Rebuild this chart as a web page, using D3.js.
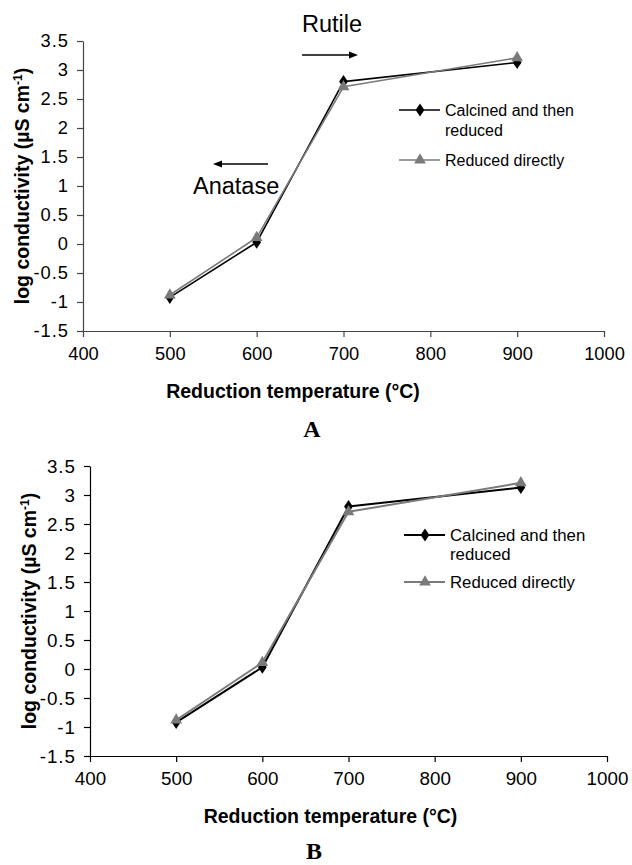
<!DOCTYPE html>
<html>
<head>
<meta charset="utf-8">
<script src="https://cdn.jsdelivr.net/npm/d3@7"></script>
<style>
  html, body { margin: 0; padding: 0; background: #fff; }
  svg { display: block; }
</style>
</head>
<body>
<svg id="chart" width="632" height="865"></svg>
<script>
// ---- data ----
const temps = [500, 600, 700, 900];
const calcinedReduced = [-0.92, 0.03, 2.80, 3.13];
const reducedDirectly = [-0.88, 0.11, 2.71, 3.21];
const seriesNames = ["Calcined and then reduced", "Reduced directly"];
const xTicks = [400, 500, 600, 700, 800, 900, 1000];
const yTicks = [-1.5, -1, -0.5, 0, 0.5, 1, 1.5, 2, 2.5, 3, 3.5];
const yTickLabels = ["-1.5", "-1", "-0.5", "0", "0.5", "1", "1.5", "2", "2.5", "3", "3.5"];
const xTitle = "Reduction temperature (°C)";
const panelLabels = ["A", "B"];
const phaseLabels = ["Rutile", "Anatase"];

const svg = d3.select("#chart");

const panels = [
  { left: 83, right: 604, top: 41, bottom: 331, axisColor: "#444", lineW: 1.6, tickFont: 18.3, legFont: 16,
    legX: 399, legY: 110, legY2: 160, legGap: 20, xTitleX: 293, yTitleX: 29, labelX: 312, labelDy: 106, annot: true },
  { left: 90, right: 607, top: 466, bottom: 756, axisColor: "#000", lineW: 2, tickFont: 18.8, legFont: 16.8,
    legX: 404, legY: 535, legY2: 582, legGap: 19, xTitleX: 330.5, yTitleX: 36, labelX: 314, labelDy: 103, annot: false }
];

panels.forEach((p, pi) => {
  const g = svg.append("g");
  const x = d3.scaleLinear().domain([400, 1000]).range([p.left, p.right]);
  const y = d3.scaleLinear().domain([-1.5, 3.5]).range([p.bottom, p.top]);

  // axes
  const xAxis = d3.axisBottom(x).tickValues(xTicks).tickSize(6).tickSizeOuter(0).tickPadding(10).tickFormat(d3.format("d"));
  const gx = g.append("g").attr("transform", `translate(0,${p.bottom})`).call(xAxis);
  gx.select(".domain").attr("stroke", p.axisColor).attr("stroke-width", 1.2);
  gx.selectAll(".tick line").attr("stroke", p.axisColor).attr("stroke-width", 1.2);
  gx.selectAll(".tick text").attr("font-family", "Liberation Sans, Arial, sans-serif")
    .attr("font-size", p.tickFont).attr("fill", "#000").attr("dy", "0.71em");

  const yAxis = d3.axisLeft(y).tickValues(yTicks).tickSize(6).tickSizeOuter(0).tickPadding(8)
    .tickFormat((d, i) => yTickLabels[i]);
  const gy = g.append("g").attr("transform", `translate(${p.left},0)`).call(yAxis);
  gy.select(".domain").attr("stroke", p.axisColor).attr("stroke-width", 1.2);
  gy.selectAll(".tick line").attr("stroke", p.axisColor).attr("stroke-width", 1.2);
  gy.selectAll(".tick text").attr("font-family", "Liberation Sans, Arial, sans-serif")
    .attr("font-size", p.tickFont).attr("fill", "#000").attr("letter-spacing", "1px");

  // axis titles
  g.append("text").attr("x", p.xTitleX).attr("y", p.bottom + 67)
    .attr("text-anchor", "middle").attr("font-family", "Liberation Sans, Arial, sans-serif")
    .attr("font-weight", "bold").attr("font-size", 19.5).text(xTitle);

  const yt = g.append("text")
    .attr("transform", `translate(${p.yTitleX},${(p.top + p.bottom) / 2}) rotate(-90)`)
    .attr("text-anchor", "middle").attr("font-family", "Liberation Sans, Arial, sans-serif")
    .attr("font-weight", "bold").attr("font-size", 19.5);
  yt.append("tspan").text("log conductivity (µS cm");
  yt.append("tspan").attr("baseline-shift", "super").attr("font-size", 12).text("-1");
  yt.append("tspan").text(")");

  // panel label
  g.append("text").attr("x", p.labelX).attr("y", p.bottom + p.labelDy)
    .attr("text-anchor", "middle").attr("font-family", "Liberation Serif, Times New Roman, serif")
    .attr("font-weight", "bold").attr("font-size", 24).text(panelLabels[pi]);

  // series
  const series = [
    { vals: calcinedReduced, color: "#000", shape: d3.symbolDiamond, size: 55 },
    { vals: reducedDirectly, color: "#7a7a7a", shape: d3.symbolTriangle, size: 60 }
  ];
  const line = d3.line().x(d => x(d[0])).y(d => y(d[1]));
  series.forEach(s => {
    const pts = temps.map((t, i) => [t, s.vals[i]]);
    g.append("path").datum(pts).attr("d", line).attr("fill", "none")
      .attr("stroke", s.color).attr("stroke-width", p.lineW).attr("stroke-linejoin", "round");
    g.selectAll(null).data(pts).enter().append("path")
      .attr("d", d3.symbol().type(s.shape).size(s.size))
      .attr("transform", d => `translate(${x(d[0])},${y(d[1])})${s.shape === d3.symbolDiamond ? " scale(1.1,0.95)" : ""}`)
      .attr("fill", s.color);
  });

  // legend
  const legFont = "Liberation Sans, Arial, sans-serif";
  const ly = [p.legY, p.legY2];
  series.forEach((s, i) => {
    g.append("line").attr("x1", p.legX).attr("x2", p.legX + 41).attr("y1", ly[i]).attr("y2", ly[i])
      .attr("stroke", s.color).attr("stroke-width", p.lineW);
    g.append("path").attr("d", d3.symbol().type(s.shape).size(s.size))
      .attr("transform", `translate(${p.legX + 21},${ly[i]})${s.shape === d3.symbolDiamond ? " scale(1.1,0.95)" : ""}`)
      .attr("fill", s.color);
  });
  const t1 = g.append("text").attr("font-family", legFont).attr("font-size", p.legFont).attr("fill", "#000");
  t1.append("tspan").attr("x", p.legX + 46).attr("y", ly[0] + 5.5).text("Calcined and then");
  t1.append("tspan").attr("x", p.legX + 46).attr("y", ly[0] + 5.5 + p.legGap).text("reduced");
  g.append("text").attr("font-family", legFont).attr("font-size", p.legFont).attr("fill", "#000")
    .attr("x", p.legX + 46).attr("y", ly[1] + 5.5).text(seriesNames[1]);

  // phase annotations
  if (p.annot) {
    const af = "Liberation Sans, Arial, sans-serif";
    g.append("text").attr("x", 302).attr("y", 32).attr("font-family", af).attr("font-size", 23.5).text(phaseLabels[0]);
    g.append("line").attr("x1", 302).attr("x2", 350).attr("y1", 55).attr("y2", 55).attr("stroke", "#000").attr("stroke-width", 1.6);
    g.append("path").attr("d", "M358,55 L349,51.5 L349,58.5 Z").attr("fill", "#000");
    g.append("text").attr("x", 193).attr("y", 194).attr("font-family", af).attr("font-size", 23.5).text(phaseLabels[1]);
    g.append("line").attr("x1", 221).attr("x2", 268).attr("y1", 164).attr("y2", 164).attr("stroke", "#000").attr("stroke-width", 1.6);
    g.append("path").attr("d", "M213,164 L222,160.5 L222,167.5 Z").attr("fill", "#000");
  }
});
</script>
</body>
</html>
